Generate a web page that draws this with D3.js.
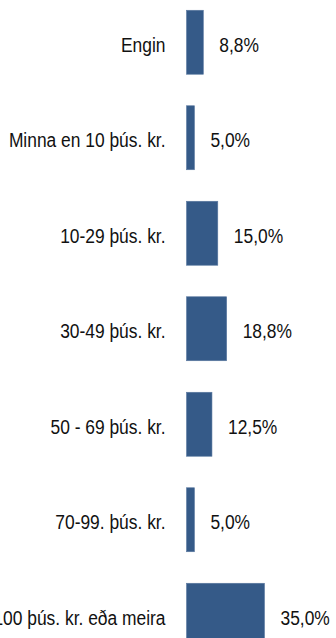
<!DOCTYPE html>
<html>
<head>
<meta charset="utf-8">
<script src="https://cdn.jsdelivr.net/npm/d3@7/dist/d3.min.js"></script>
<style>
  html, body { margin: 0; padding: 0; background: #ffffff; }
  svg { display: block; }
  text { font-family: "Liberation Sans", Arial, sans-serif; fill: #111111; }
</style>
</head>
<body>
<script>
// Income brackets and share of respondents (%)
const categories = [
  "Engin",
  "Minna en 10 þús. kr.",
  "10-29 þús. kr.",
  "30-49 þús. kr.",
  "50 - 69 þús. kr.",
  "70-99. þús. kr.",
  "100 þús. kr. eða meira"
];
const values = [8.8, 5.0, 15.0, 18.8, 12.5, 5.0, 35.0];
const valueLabels = ["8,8%", "5,0%", "15,0%", "18,8%", "12,5%", "5,0%", "35,0%"];

const width = 336, height = 638;
const barLeft = 186.5;
const fontSize = 20;
const squeeze = 0.87;

const svg = d3.select("body").append("svg")
  .attr("width", width)
  .attr("height", height);

const y = d3.scaleBand()
  .domain(categories)
  .range([-5.5, -5.5 + 95.5 * categories.length])
  .paddingInner(0.33)
  .paddingOuter(0.165);

const x = d3.scaleLinear()
  .domain([1.6, 35])
  .range([0, 78]);

const rows = svg.selectAll("g.row")
  .data(categories.map((c, i) => ({ c, v: values[i], lab: valueLabels[i] })))
  .join("g")
  .attr("class", "row");

rows.append("rect")
  .attr("x", barLeft)
  .attr("y", d => y(d.c))
  .attr("width", d => x(d.v))
  .attr("height", y.bandwidth())
  .attr("fill", "#355a88")
  .attr("stroke", "#5a78a0")
  .attr("stroke-width", 0.6);

// category labels, right aligned left of the bars
rows.append("g")
  .attr("transform", d => `translate(${barLeft - 21},${y(d.c) + y.bandwidth() / 2 + 9.5}) scale(${squeeze},1)`)
  .append("text")
  .attr("text-anchor", "end")
  .attr("font-size", fontSize)
  .text(d => d.c);

// value labels right of each bar
rows.append("g")
  .attr("transform", d => `translate(${barLeft + x(d.v) + 16},${y(d.c) + y.bandwidth() / 2 + 9.5}) scale(${squeeze},1)`)
  .append("text")
  .attr("text-anchor", "start")
  .attr("font-size", fontSize)
  .text(d => d.lab);
</script>
</body>
</html>
